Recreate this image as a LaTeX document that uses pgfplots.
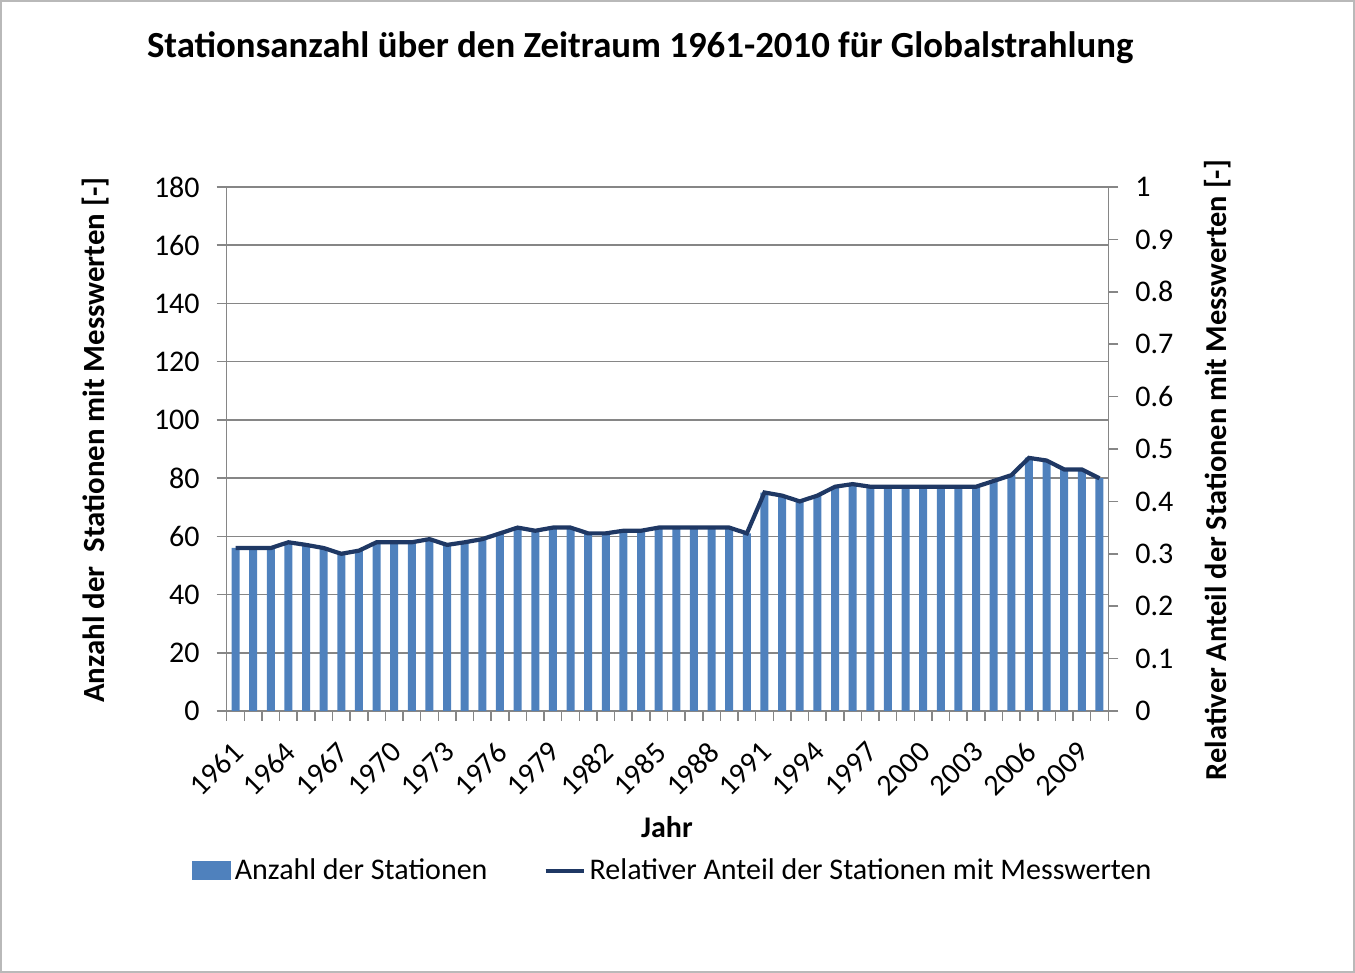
\documentclass[border=0pt]{standalone}
\usepackage{fontspec}
\setmainfont{Carlito}
\usepackage{pgfplots}
\usepackage{pgfplotstable}
\pgfplotsset{compat=1.18}
\definecolor{barblue}{HTML}{4F81BD}
\definecolor{linenavy}{HTML}{1F3864}
\definecolor{gridgray}{HTML}{868686}

\pgfplotstableread{
i count share
0 56 0.311
1 56 0.311
2 56 0.311
3 58 0.322
4 57 0.317
5 56 0.311
6 54 0.300
7 55 0.306
8 58 0.322
9 58 0.322
10 58 0.322
11 59 0.328
12 57 0.317
13 58 0.322
14 59 0.328
15 61 0.339
16 63 0.350
17 62 0.344
18 63 0.350
19 63 0.350
20 61 0.339
21 61 0.339
22 62 0.344
23 62 0.344
24 63 0.350
25 63 0.350
26 63 0.350
27 63 0.350
28 63 0.350
29 61 0.339
30 75 0.417
31 74 0.411
32 72 0.400
33 74 0.411
34 77 0.428
35 78 0.433
36 77 0.428
37 77 0.428
38 77 0.428
39 77 0.428
40 77 0.428
41 77 0.428
42 77 0.428
43 79 0.439
44 81 0.450
45 87 0.483
46 86 0.478
47 83 0.461
48 83 0.461
49 80 0.444
}\data

\begin{document}
\begin{tikzpicture}[x=1pt,y=1pt]
\path[use as bounding box] (-113.35,-131) rectangle (564.15,355.5);
\draw[gray!55, line width=0.8pt] (-112.95,-130.6) rectangle (563.75,355.1);
\begin{axis}[
  at={(0pt,0pt)}, anchor=south west,
  scale only axis, width=440.8pt, height=262pt,
  xmin=-0.5, xmax=49.5, ymin=0, ymax=180,
  axis x line*=bottom, axis y line*=left,
  axis line style={gridgray, line width=0.75pt},
  ytick={0,20,...,180},
  xtick={0,3,...,48},
  xticklabels={1961,1964,1967,1970,1973,1976,1979,1982,1985,1988,1991,1994,1997,2000,2003,2006,2009},
  minor xtick={-0.5,0.5,...,49.5},
  major x tick style={draw=none},
  minor x tick style={gridgray, line width=0.75pt},
  major y tick style={gridgray, line width=0.75pt},
  tick align=outside, major tick length=5pt, minor tick length=5pt,
  ymajorgrids, grid style={gridgray, line width=0.75pt},
  /pgf/number format/assume math mode=true,
  ticklabel style={font=\fontsize{15}{18}\selectfont},
  yticklabel style={xshift=-5pt},
  xticklabel style={xshift=-2.5pt, yshift=-8pt, rotate=45, anchor=north east, inner sep=1pt, font=\fontsize{15}{18}\selectfont},
  ylabel={\textbf{Anzahl der\ \ Stationen mit Messwerten [-]}},
  ylabel style={at={(axis description cs:-0.149,0.517)}, rotate=0, anchor=center, font=\fontsize{15.4}{18}\selectfont},
  xlabel={\textbf{Jahr}},
  xlabel style={at={(axis description cs:0.4994,-0.221)}, anchor=center, font=\fontsize{15}{18}\selectfont},
  every axis title shift=0pt,
  title={\textbf{Stationsanzahl über den Zeitraum 1961-2010 für Globalstrahlung}},
  title style={at={(axis description cs:0.469,1.266)}, anchor=center, font=\fontsize{18.4}{22}\selectfont},
  clip=false,
]
\addplot[ybar, bar width=4pt, fill=barblue, draw=none] table[x=i, y=count] {\data};
\end{axis}
\begin{axis}[
  at={(0pt,0pt)}, anchor=south west,
  scale only axis, width=440.8pt, height=262pt,
  xmin=-0.5, xmax=49.5, ymin=0, ymax=1,
  axis y line*=right, axis x line=none,
  axis line style={gridgray, line width=0.75pt},
  ytick={0,0.1,0.2,0.3,0.4,0.5,0.6,0.7,0.8,0.9,1},
  yticklabels={0,0.1,0.2,0.3,0.4,0.5,0.6,0.7,0.8,0.9,1},
  major y tick style={gridgray, line width=0.75pt},
  tick align=outside, major tick length=5pt,
  ticklabel style={font=\fontsize{15}{18}\selectfont},
  yticklabel style={xshift=5pt},
  ylabel={\textbf{Relativer Anteil der Stationen mit Messwerten [-]}},
  ylabel style={at={(axis description cs:1.1245,0.46)}, anchor=center, rotate=0, font=\fontsize{15.2}{18}\selectfont},
  legend style={at={(axis description cs:0.507,-0.305)}, anchor=center, draw=none, fill=none,
    legend columns=2, font=\fontsize{15}{18}\selectfont,
    /tikz/every even column/.append style={column sep=26pt}},
  clip=false,
]
\addlegendimage{legend image code/.code={\fill[barblue] (0pt,-4.5pt) rectangle (19pt,4.5pt);}}
\addplot[linenavy, line width=2.1pt, mark=none,
  legend image code/.code={\draw[linenavy, line width=2.1pt] (0pt,0pt) -- (19pt,0pt);}]
  table[x=i, y=share] {\data};
\legend{Anzahl der Stationen, Relativer Anteil der Stationen mit Messwerten}
\end{axis}
\end{tikzpicture}
\end{document}
